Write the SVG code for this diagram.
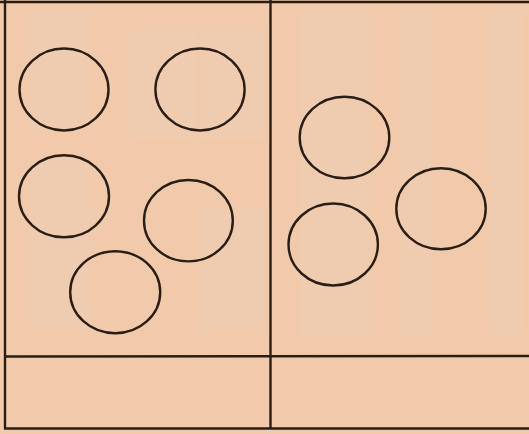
<svg xmlns="http://www.w3.org/2000/svg" width="529" height="434" viewBox="0 0 529 434">
<style>
.ln{stroke:#2a1d15;stroke-width:2.4;fill:none}
.c{stroke:#2a1d15;stroke-width:2.4;fill:none}
.p{fill:#ead0bc;opacity:0.28}
</style>
<rect id="bg" x="0" y="0" width="529" height="434" fill="#f1caab"/>
<g id="ghost">
<rect class="p" x="30" y="10" width="60" height="120"/>
<rect class="p" x="135" y="30" width="60" height="110"/>
<rect class="p" x="200" y="30" width="65" height="110"/>
<rect class="p" x="30" y="160" width="60" height="170"/>
<rect class="p" x="200" y="210" width="65" height="120"/>
<rect class="p" x="300" y="15" width="70" height="320"/>
<rect class="p" x="400" y="15" width="30" height="320"/>
<rect class="p" x="490" y="15" width="35" height="320"/>
</g>
<g id="table">
<line class="ln" x1="0" y1="2" x2="529" y2="2"/>
<line class="ln" x1="5" y1="0" x2="5" y2="429"/>
<line class="ln" x1="270.5" y1="0" x2="270.5" y2="429"/>
<line class="ln" x1="4" y1="356.5" x2="529" y2="356"/>
<line class="ln" x1="4" y1="428.5" x2="529" y2="428.5"/>
</g>
<g id="circles">
<ellipse id="c1" class="c" cx="64" cy="89.5" rx="44.5" ry="41"/>
<ellipse id="c2" class="c" cx="200" cy="89.5" rx="44.6" ry="41"/>
<ellipse id="c3" class="c" cx="64" cy="196.3" rx="45" ry="41"/>
<ellipse id="c4" class="c" cx="188.4" cy="220.7" rx="44.4" ry="40.7"/>
<ellipse id="c5" class="c" cx="115.2" cy="292.2" rx="45" ry="41"/>
<ellipse id="c6" class="c" cx="344.5" cy="137.5" rx="44.8" ry="40.8"/>
<ellipse id="c7" class="c" cx="441" cy="208.8" rx="44.7" ry="40.5"/>
<ellipse id="c8" class="c" cx="333.2" cy="244.5" rx="44.7" ry="41"/>
</g>
</svg>
